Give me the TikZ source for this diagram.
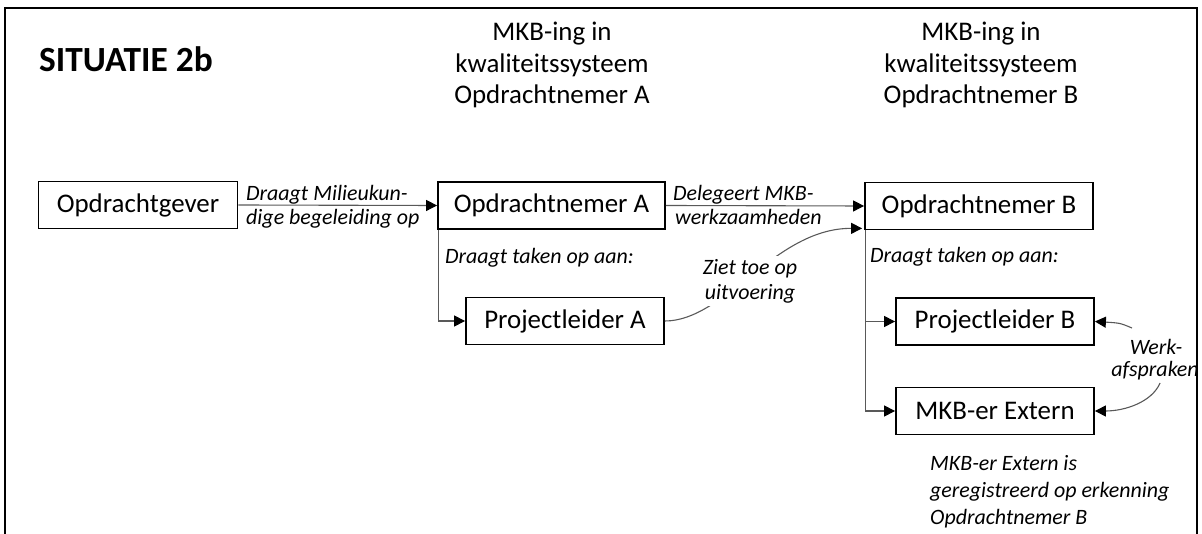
\documentclass[tikz,border=0pt]{standalone}
\usepackage{fontspec}
\setmainfont{Carlito}
\usetikzlibrary{arrows.meta,calc}
\begin{document}
\begin{tikzpicture}[x=1bp,y=-1bp,
  box/.style={draw=black, line width=1.8bp, minimum height=47bp, inner sep=0pt,
    font=\fontsize{27}{32}\selectfont},
  conn/.style={draw=black!65, line width=1.1bp},
  arr/.style={conn, -{Triangle[length=11bp,width=11bp,color=black]}},
  lbl/.style={font=\itshape\fontsize{22}{25}\selectfont, inner sep=0pt},
  head/.style={font=\fontsize{27}{31}\selectfont, inner sep=0pt},
  frameline/.style={line width=2.5bp, draw=black},
]
\useasboundingbox (0,0) rectangle (1202,534);
\draw[frameline] (5,534) -- (5,8) -- (1197,8) -- (1197,534);

% title
\node[font=\bfseries\fontsize{35.5}{40}\selectfont, inner sep=0pt, anchor=base west] (title) at (39,72) {SITUATIE 2b};

% headers
\node[head, anchor=base] (hA1) at (552,41) {MKB-ing in};
\node[head, anchor=base] (hA2) at (552,73) {kwaliteitssysteem};
\node[head, anchor=base] (hA3) at (552,104) {Opdrachtnemer A};
\node[head, anchor=base] (hB1) at (981,41) {MKB-ing in};
\node[head, anchor=base] (hB2) at (981,73) {kwaliteitssysteem};
\node[head, anchor=base] (hB3) at (981,104) {Opdrachtnemer B};

% boxes
\node[box, minimum width=199bp] (og) at (138,205) {Opdrachtgever};
\node[box, minimum width=227bp] (onA) at (551.5,205.5) {Opdrachtnemer A};
\node[box, minimum width=228bp] (onB) at (979,206) {Opdrachtnemer B};
\node[box, minimum width=198bp] (plA) at (565,321) {Projectleider A};
\node[box, minimum width=198bp] (plB) at (995,321.5) {Projectleider B};
\node[box, minimum width=198bp] (mkb) at (995,411) {MKB-er Extern};

% straight arrows
\draw[arr] (og.east) -- (onA.west);
\draw[arr] (onA.east) -- (onB.west);
\node[lbl, anchor=base west] (l1a) at (246,201) {Draagt Milieukun-};
\node[lbl, anchor=base west] (l1b) at (246,225) {dige begeleiding op};
\node[lbl, anchor=base west] (l2a) at (673,201) {Delegeert MKB-};
\node[lbl, anchor=base west] (l2b) at (675,225) {werkzaamheden};

% tree A
\draw[arr] ([xshift=1bp]onA.south west) |- (plA.west);
\node[lbl, anchor=base west] (tA) at (445,264) {Draagt taken op aan:};

% tree B
\draw[arr] ([xshift=1bp]onB.south west) |- (mkb.west);
\draw[arr] ([xshift=1bp]onB.south west |- plB.west) -- (plB.west);
\node[lbl, anchor=base west] (tB) at (870,263) {Draagt taken op aan:};

% Ziet toe op
\draw[arr] (plA.east) .. controls (725,321) and (775,228) .. ($(onB.south west)+(-2,-2)$);
\node[lbl, align=center, fill=white, inner sep=3bp] (zt) at (750,281) {Ziet toe op\\uitvoering};

% Werkafspraken
\coordinate (w1) at (1132,328);
\coordinate (w2) at (1160,383);
\draw[arr] (w1) .. controls (1120,323) .. (plB.east);
\draw[arr] (w2) .. controls (1152,402) and (1125,411) .. (mkb.east);
\node[lbl, anchor=base] (wk1) at (1156,355) {Werk-};
\node[lbl, anchor=base] (wk2) at (1155,377) {afspraken};

% note
\node[lbl, anchor=base west] (n1) at (930,470) {MKB-er Extern is};
\node[lbl, anchor=base west] (n2) at (930,497) {geregistreerd op erkenning};
\node[lbl, anchor=base west] (n3) at (930,524) {Opdrachtnemer B};
\end{tikzpicture}
\end{document}
